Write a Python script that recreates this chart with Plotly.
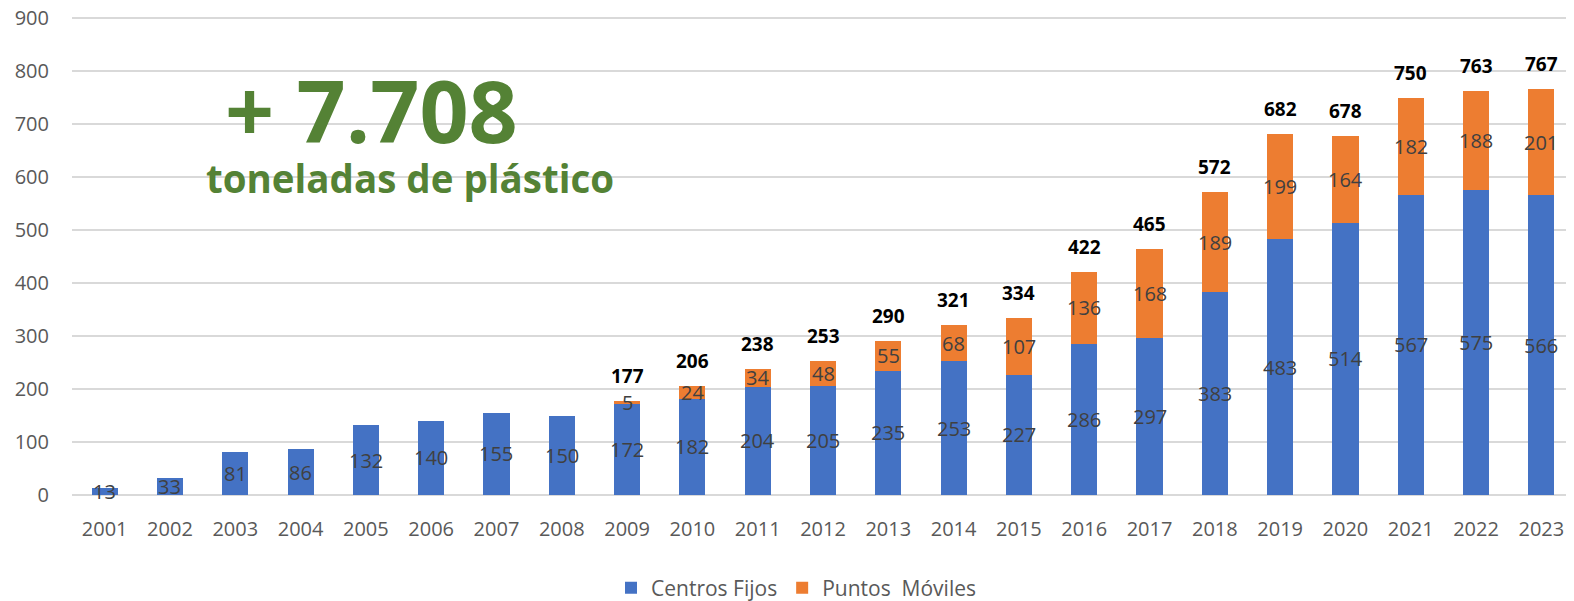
import plotly.graph_objects as go

years = [str(y) for y in range(2001, 2024)]
centros_fijos = [13, 33, 81, 86, 132, 140, 155, 150, 172, 182, 204, 205, 235, 253, 227, 286, 297, 383, 483, 514, 567, 575, 566]
puntos_moviles = [None, None, None, None, None, None, None, None, 5, 24, 34, 48, 55, 68, 107, 136, 168, 189, 199, 164, 182, 188, 201]
totales = [None, None, None, None, None, None, None, None, 177, 206, 238, 253, 290, 321, 334, 422, 465, 572, 682, 678, 750, 763, 767]
y_ticks = [0, 100, 200, 300, 400, 500, 600, 700, 800, 900]

BLUE = "#4472C4"
ORANGE = "#ED7D31"
GREEN = "#548235"
FONT = "Open Sans"

OFF = 8  # page body margin
W, H = 1574 - OFF, 601 - OFF
Y_MAX = 912
SCALE = 477.0 / 900.0  # px per unit in reference
ML, MR, MB = 64, 0, 106
PH = Y_MAX * SCALE
MT = H - MB - PH
PW = W - ML - MR

fig = go.Figure()
fig.add_bar(x=years, y=centros_fijos, name="Centros Fijos", marker_color=BLUE,
            marker_line_width=0, width=0.4)
fig.add_bar(x=years, y=[v if v is not None else 0 for v in puntos_moviles], name="Puntos  Móviles",
            marker_color=ORANGE, marker_line_width=0, width=0.4)

ann = []
for i, yr in enumerate(years):
    b = centros_fijos[i]
    ann.append(dict(x=i, y=b / 2, text=str(b), showarrow=False, xref="x", yref="y",
                    yanchor="middle", font=dict(family=FONT, size=20, color="#404040")))
    m = puntos_moviles[i]
    if m is not None:
        ann.append(dict(x=i, y=b + m / 2, text=str(m), showarrow=False, xref="x", yref="y",
                        yanchor="middle", font=dict(family=FONT, size=20, color="#404040")))
    t = totales[i]
    if t is not None:
        ann.append(dict(x=i, y=t, text=str(t), showarrow=False, xref="x", yref="y",
                        yanchor="bottom", yshift=10,
                        font=dict(family=FONT, size=19, color="#000000", weight=700)))

def cx(p):
    return (p - OFF) / W

def cy(p):
    return 1 - (p - OFF) / H

def px_x(p):
    return (p - OFF - ML) / PW

def px_y(p):
    return 1 - (p - OFF - MT) / PH

ann.append(dict(x=px_x(223), y=px_y(109), xref="paper", yref="paper", xanchor="left", yanchor="middle",
                text="+ 7.708", showarrow=False,
                font=dict(family=FONT, size=86, color=GREEN, weight=700)))
ann.append(dict(x=px_x(204), y=px_y(178), xref="paper", yref="paper", xanchor="left", yanchor="middle",
                text="toneladas de plástico", showarrow=False,
                font=dict(family=FONT, size=38.5, color=GREEN, weight=700)))

fig.update_layout(
    width=W, height=H,
    margin=dict(l=ML, r=MR, t=MT, b=MB, autoexpand=False),
    barmode="stack",
    plot_bgcolor="white", paper_bgcolor="white",
    font=dict(family=FONT, size=18, color="#595959"),
    annotations=ann,
    showlegend=True,
    legend=dict(orientation="h", xref="container", yref="container",
                x=cx(796), xanchor="center", y=cy(588), yanchor="middle",
                font=dict(family=FONT, size=21, color="#595959"), traceorder="normal",
                itemwidth=30),
    xaxis=dict(type="category", showgrid=False, showline=False, ticks="", tickfont=dict(size=20),
               range=[-0.5, 22.5], ticklabelstandoff=20),
    yaxis=dict(range=[0, Y_MAX], tickvals=y_ticks, showgrid=True,
               gridcolor="#d9d9d9", gridwidth=1.5,
               zeroline=True, zerolinecolor="#d9d9d9", zerolinewidth=1.5, showline=False,
               ticks="", tickfont=dict(size=20), ticklabelstandoff=22,
               ticklabeloverflow="allow"),
)

fig.write_html("out.html")
